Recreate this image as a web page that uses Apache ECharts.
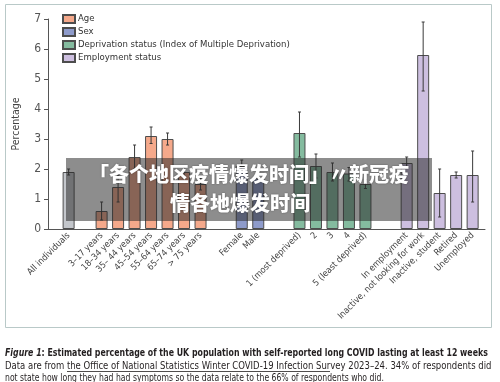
<!DOCTYPE html>
<html><head><meta charset="utf-8">
<script src="https://cdn.jsdelivr.net/npm/echarts@6/dist/echarts.min.js"></script>
<style>html,body{margin:0;padding:0;background:#fff}#c{width:500px;height:382px}</style>
</head><body><div id="c"></div>
<script>
// ---- data ----
const allLabels = ['All individuals'];
const allValues = [1.9];
const allLow = [1.8];
const allHigh = [2.0];

const ageLabels = ['3–17 years','18–34 years','35– 44 years','45–54 years','55–64 years','65–74 years','> 75 years'];
const ageValues = [0.6, 1.4, 2.4, 3.1, 3.0, 1.9, 1.5];
const ageLow    = [0.3, 0.9, 2.0, 2.85, 2.8, 1.7, 1.3];
const ageHigh   = [0.9, 1.8, 2.8, 3.4, 3.2, 2.1, 1.7];

const sexLabels = ['Female','Male'];
const sexValues = [2.1, 1.7];
const sexLow    = [1.95, 1.55];
const sexHigh   = [2.3, 1.85];

const depLabels = ['1 (most deprived)','2','3','4','5 (least deprived)'];
const depValues = [3.2, 2.1, 1.9, 1.85, 1.5];
const depLow    = [2.4, 1.7, 1.6, 1.6, 1.35];
const depHigh   = [3.9, 2.5, 2.2, 2.05, 1.65];

const empLabels = ['In employment','Inactive, not looking for work','Inactive, student','Retired','Unemployed'];
const empValues = [2.2, 5.8, 1.2, 1.8, 1.8];
const empLow    = [2.05, 4.6, 0.4, 1.7, 0.9];
const empHigh   = [2.4, 6.9, 2.0, 1.9, 2.6];

const yTicks = [0,1,2,3,4,5,6,7];

const captionTitle = 'Figure 1';
const captionBold = ': Estimated percentage of the UK population with self-reported long COVID lasting at least 12 weeks';
const captionLine2 = 'Data are from the {u|Office of National Statistics Winter COVID-19 Infection Survey 2023–24.} 34% of respondents did';
const captionLine3 = 'not state how long they had had symptoms so the data relate to the 66% of respondents who did.';
const overlayLine1 = '「各个地区疫情爆发时间」〃新冠疫';
const overlayLine2 = '情各地爆发时间';

// ---- layout ----
const FONT = "'DejaVu Sans Condensed','Liberation Sans',sans-serif";
const groups = [
  {name:'All', labels:allLabels, values:allValues, low:allLow, high:allHigh, color:'#c3c6cb', gapBefore:2},
  {name:'Age', labels:ageLabels, values:ageValues, low:ageLow, high:ageHigh, color:'#f5a98b', gapBefore:4},
  {name:'Sex', labels:sexLabels, values:sexValues, low:sexLow, high:sexHigh, color:'#8e9bcb', gapBefore:5},
  {name:'Deprivation status (Index of Multiple Deprivation)', labels:depLabels, values:depValues, low:depLow, high:depHigh, color:'#84bb9f', gapBefore:5},
  {name:'Employment status', labels:empLabels, values:empValues, low:empLow, high:empHigh, color:'#cdbfe0', gapBefore:5}
];
const cats = [];
const placements = [];
let pos = 0;
groups.forEach((g, gi) => {
  g.labels.forEach((lab, i) => {
    pos += (i === 0 ? g.gapBefore : 2);
    while (cats.length < pos) cats.push('');
    cats.push(lab);
    placements.push({gi, i, idx: pos});
  });
});
cats.push('');
const N = cats.length;

const series = groups.map((g, gi) => {
  const d = new Array(N).fill('-');
  placements.filter(p => p.gi === gi).forEach(p => { d[p.idx] = g.values[p.i]; });
  return {
    name: g.name, type: 'bar', data: d, barWidth: 12, barGap: '-100%',
    itemStyle: {color: g.color, borderColor: '#4d4d4d', borderWidth: 1},
    z: 2
  };
});
const errData = placements.map(p => [p.idx, groups[p.gi].low[p.i], groups[p.gi].high[p.i]]);
series.push({
  type: 'custom', name: 'err', z: 5, data: errData,
  renderItem: (params, api) => {
    const a = api.coord([api.value(0), api.value(1)]);
    const b = api.coord([api.value(0), api.value(2)]);
    const w = 1.5;
    const st = {stroke: '#3a3a3a', lineWidth: 1};
    return {type: 'group', children: [
      {type: 'line', shape: {x1: a[0], y1: a[1], x2: b[0], y2: b[1]}, style: st},
      {type: 'line', shape: {x1: a[0]-w, y1: a[1], x2: a[0]+w, y2: a[1]}, style: st},
      {type: 'line', shape: {x1: b[0]-w, y1: b[1], x2: b[0]+w, y2: b[1]}, style: st}
    ]};
  }
});

const capColor = '#231f20';
const chart = echarts.init(document.getElementById('c'), null, {renderer: 'canvas'});
chart.setOption({
  animation: false,
  textStyle: {fontFamily: FONT},
  grid: {left: 48, right: 15, top: 19, bottom: 153, containLabel: false},
  legend: {
    data: groups.slice(1).map(g => g.name),
    orient: 'vertical', left: 57, top: 8, icon: 'rect',
    itemWidth: 12, itemHeight: 8, itemGap: 1,
    textStyle: {fontFamily: FONT, fontSize: 9.5, color: '#333', lineHeight: 12, padding: [0,0,0,-2]},
    selectedMode: false
  },
  xAxis: {
    type: 'category', data: cats,
    axisLine: {lineStyle: {color: '#555', width: 1}},
    axisTick: {show: false},
    axisLabel: {interval: 0, rotate: 45, margin: 5, fontSize: 9, color: '#444', fontFamily: FONT}
  },
  yAxis: {
    type: 'value', min: yTicks[0], max: yTicks[yTicks.length-1], interval: 1,
    name: 'Percentage', nameLocation: 'middle', nameGap: 26,
    nameTextStyle: {fontSize: 10.5, color: '#444', fontFamily: FONT},
    axisLine: {show: true, lineStyle: {color: '#555'}},
    axisTick: {show: true, length: 4, lineStyle: {color: '#555'}},
    axisLabel: {fontSize: 12, color: '#555', margin: 7, fontFamily: FONT},
    splitLine: {show: false}
  },
  series: series,
  graphic: [
    {type: 'rect', shape: {x: 5.5, y: 4.5, width: 486, height: 323}, style: {fill: 'none', stroke: '#b9c9c8', lineWidth: 1}, z: 0, silent: true},
    {type: 'rect', shape: {x: 66, y: 158, width: 366, height: 63}, style: {fill: 'rgba(40,40,40,0.53)'}, z: 100},
    {type: 'text', x: 249, y: 174, z: 101,
      style: {text: overlayLine1, fill: '#fff', font: "900 20px 'Noto Sans CJK SC'", align: 'center', verticalAlign: 'middle', textShadowColor: 'rgba(0,0,0,0.4)', textShadowBlur: 2}},
    {type: 'text', x: 240, y: 203, z: 101,
      style: {text: overlayLine2, fill: '#fff', font: "900 20px 'Noto Sans CJK SC'", align: 'center', verticalAlign: 'middle', textShadowColor: 'rgba(0,0,0,0.4)', textShadowBlur: 2}},
    {type: 'text', x: 5, y: 353, scaleX: 0.83, z: 10,
      style: {text: '{i|' + captionTitle + '}{b|' + captionBold + '}', verticalAlign: 'middle',
        rich: {i: {fontStyle: 'italic', fontWeight: 'bold', fontSize: 10.5, fill: capColor, fontFamily: FONT},
               b: {fontWeight: 'bold', fontSize: 10.5, fill: capColor, fontFamily: FONT}}}},
    {type: 'text', x: 5, y: 366.5, scaleX: 0.9, z: 10,
      style: {text: captionLine2, fontSize: 10.5, fill: capColor, fontFamily: FONT, verticalAlign: 'middle',
        rich: {u: {fontSize: 10.5, fill: capColor, fontFamily: FONT}}}},
    {type: 'text', x: 5, y: 378.5, scaleX: 0.815, z: 10,
      style: {text: captionLine3, fontSize: 10.5, fill: capColor, fontFamily: FONT, verticalAlign: 'middle'}},
    {type: 'line', shape: {x1: 67, y1: 371.5, x2: 330, y2: 371.5}, style: {stroke: capColor, lineWidth: 0.8}, z: 10}
  ]
});
</script></body></html>
